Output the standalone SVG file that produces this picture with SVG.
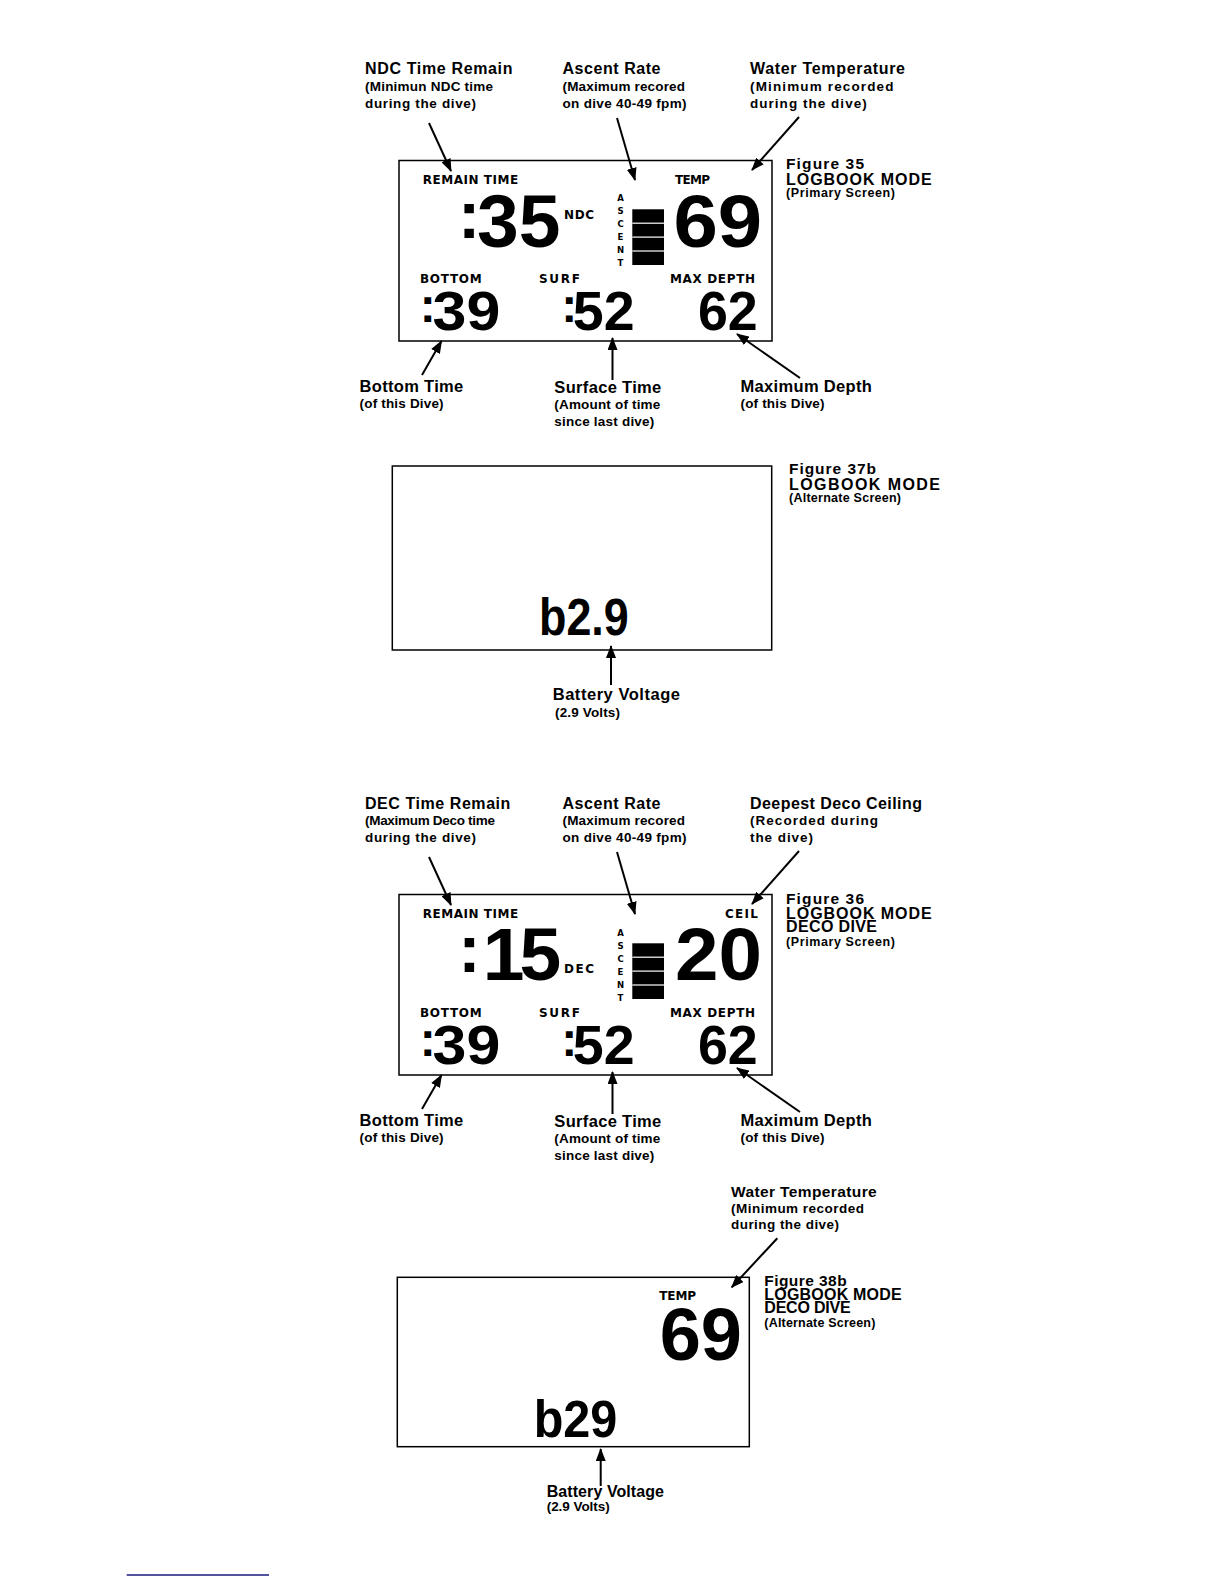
<svg xmlns="http://www.w3.org/2000/svg" width="1224" height="1584" viewBox="0 0 1224 1584">
<style>
text{font-family:"Liberation Sans",Arial,sans-serif;font-weight:bold;fill:#000}
.h{font-size:16px}
.hb{font-size:16.5px}
.s{font-size:13.5px}
.fg{font-size:15.5px}
.lg{font-size:16px}
.ps{font-size:12.5px}
.lcd{font-family:"DejaVu Sans","Liberation Sans",sans-serif;font-size:12px}
.asc{font-family:"DejaVu Sans","Liberation Sans",sans-serif;font-size:8.5px;text-anchor:middle}
.box{fill:#fff;stroke:#000;stroke-width:1.5}
.conn line{stroke:#000;stroke-width:2;marker-end:url(#ah)}
.sep{stroke:#fff;stroke-width:1.2}
</style>
<defs>
<marker id="ah" viewBox="0 0 13 10" refX="12" refY="5" markerWidth="13" markerHeight="10" markerUnits="userSpaceOnUse" orient="auto">
<path d="M0,0 L13,5 L0,10 z" fill="#000"/>
</marker>
</defs>
<rect width="1224" height="1584" fill="#fff"/>

<!-- ===== Figure 35 ===== -->
<g id="fig35-labels">
<text class="h" x="365" y="74" textLength="147.5">NDC Time Remain</text>
<text class="s" x="365" y="91" textLength="128">(Minimun NDC time</text>
<text class="s" x="365" y="107.5" textLength="111">during the dive)</text>
<text class="h" x="562.5" y="74" textLength="98">Ascent Rate</text>
<text class="s" x="562.5" y="91" textLength="122.5">(Maximum recored</text>
<text class="s" x="562.5" y="107.5" textLength="124">on dive 40-49 fpm)</text>
<text class="h" x="750" y="74" textLength="155">Water Temperature</text>
<text class="s" x="750" y="91" textLength="143.5">(Minimum recorded</text>
<text class="s" x="750" y="107.5" textLength="116.7">during the dive)</text>
<text class="hb" x="359.6" y="392" textLength="103.6">Bottom Time</text>
<text class="s" x="359.6" y="408" textLength="84">(of this Dive)</text>
<text class="hb" x="554.3" y="392.5" textLength="107">Surface Time</text>
<text class="s" x="554.3" y="409" textLength="106">(Amount of time</text>
<text class="s" x="554.3" y="425.5" textLength="100">since last dive)</text>
<text class="hb" x="740.5" y="391.5" textLength="131.4">Maximum Depth</text>
<text class="s" x="740.5" y="407.5" textLength="84">(of this Dive)</text>
<text class="fg" x="786" y="169" textLength="78">Figure  35</text>
<text class="lg" x="786" y="184.5" textLength="145.7">LOGBOOK  MODE</text>
<text class="ps" x="786" y="197" textLength="109">(Primary Screen)</text>
</g>
<g id="fig35-screen">
<rect class="box" x="399" y="160.5" width="373" height="180.5"/>
<text class="lcd" x="422.7" y="184.3" textLength="95.6">REMAIN TIME</text>
<text class="lcd" x="675" y="184.3" textLength="35">TEMP</text>
<text class="lcd" x="564" y="219" textLength="30">NDC</text>
<text class="lcd" x="420" y="283.3" textLength="61.7">BOTTOM</text>
<text class="lcd" x="539" y="283.3" textLength="41">SURF</text>
<text class="lcd" x="670" y="283.3" textLength="85">MAX DEPTH</text>
<text x="458.1" y="237.7" font-size="67">:</text>
<text x="477" y="246.7" font-size="75">35</text>
<text x="673.5" y="246.7" font-size="75" textLength="88.7" lengthAdjust="spacingAndGlyphs">69</text>
<text x="419.7" y="321.7" font-size="48">:</text>
<text x="432.6" y="330" font-size="55.5" textLength="67.7" lengthAdjust="spacingAndGlyphs">39</text>
<text x="561.3" y="321.7" font-size="48">:</text>
<text x="572.8" y="330" font-size="55.5" textLength="61.8" lengthAdjust="spacingAndGlyphs">52</text>
<text x="697.9" y="330" font-size="55.5" textLength="59.8" lengthAdjust="spacingAndGlyphs">62</text>
<text class="asc" x="620.5" y="200.7">A</text>
<text class="asc" x="620.5" y="213.7">S</text>
<text class="asc" x="620.5" y="226.7">C</text>
<text class="asc" x="620.5" y="239.7">E</text>
<text class="asc" x="620.5" y="252.7">N</text>
<text class="asc" x="620.5" y="265.7">T</text>
<rect x="632.3" y="209.3" width="31.7" height="55.7" fill="#000"/>
<line class="sep" x1="632.3" y1="223.2" x2="664" y2="223.2"/>
<line class="sep" x1="632.3" y1="237.1" x2="664" y2="237.1"/>
<line class="sep" x1="632.3" y1="251" x2="664" y2="251"/>
</g>

<!-- ===== Figure 37b ===== -->
<g id="fig37b-labels">
<text class="fg" x="789" y="474.3" textLength="87">Figure  37b</text>
<text class="lg" x="789" y="490" textLength="151">LOGBOOK  MODE</text>
<text class="ps" x="789" y="502" textLength="112">(Alternate Screen)</text>
<text class="hb" x="552.7" y="700" textLength="127.3">Battery Voltage</text>
<text class="s" x="555" y="716.7" textLength="65">(2.9 Volts)</text>
</g>
<g id="fig37b-screen">
<rect class="box" x="392.3" y="466" width="379.4" height="184"/>
<text x="539" y="635" font-size="51" textLength="89.8" lengthAdjust="spacingAndGlyphs">b2.9</text>
</g>

<!-- ===== Figure 36 ===== -->
<g id="fig36-labels">
<text class="h" x="365" y="809" textLength="145.4">DEC Time Remain</text>
<text class="s" x="365" y="825" textLength="130">(Maximum Deco time</text>
<text class="s" x="365" y="841.5" textLength="111">during the dive)</text>
<text class="h" x="562.5" y="809" textLength="98">Ascent Rate</text>
<text class="s" x="562.5" y="825" textLength="122.5">(Maximum recored</text>
<text class="s" x="562.5" y="841.5" textLength="124">on dive 40-49 fpm)</text>
<text class="h" x="750" y="809" textLength="172">Deepest Deco Ceiling</text>
<text class="s" x="750" y="825" textLength="128">(Recorded during</text>
<text class="s" x="750" y="841.5" textLength="63">the dive)</text>
<text class="hb" x="359.6" y="1126" textLength="103.6">Bottom Time</text>
<text class="s" x="359.6" y="1142" textLength="84">(of this Dive)</text>
<text class="hb" x="554.3" y="1126.5" textLength="107">Surface Time</text>
<text class="s" x="554.3" y="1143" textLength="106">(Amount of time</text>
<text class="s" x="554.3" y="1159.5" textLength="100">since last dive)</text>
<text class="hb" x="740.5" y="1125.5" textLength="131.4">Maximum Depth</text>
<text class="s" x="740.5" y="1141.5" textLength="84">(of this Dive)</text>
<text class="fg" x="786" y="904" textLength="78">Figure  36</text>
<text class="lg" x="786" y="918.5" textLength="145.7">LOGBOOK  MODE</text>
<text class="lg" x="786" y="931.5" textLength="91">DECO DIVE</text>
<text class="ps" x="786" y="946" textLength="109">(Primary Screen)</text>
</g>
<g id="fig36-screen">
<rect class="box" x="399" y="894.5" width="373" height="180.5"/>
<text class="lcd" x="422.7" y="918.3" textLength="95.6">REMAIN TIME</text>
<text class="lcd" x="725" y="918.3" textLength="33">CEIL</text>
<text class="lcd" x="564" y="973" textLength="30">DEC</text>
<text class="lcd" x="420" y="1017.3" textLength="61.7">BOTTOM</text>
<text class="lcd" x="539" y="1017.3" textLength="41">SURF</text>
<text class="lcd" x="670" y="1017.3" textLength="85">MAX DEPTH</text>
<text x="458.3" y="971.7" font-size="67">:</text>
<text x="482.7" y="980" font-size="75" letter-spacing="-5">15</text>
<text x="674.9" y="980" font-size="75" textLength="87" lengthAdjust="spacingAndGlyphs">20</text>
<text x="419.7" y="1055.7" font-size="48">:</text>
<text x="432.6" y="1064" font-size="55.5" textLength="67.7" lengthAdjust="spacingAndGlyphs">39</text>
<text x="561.3" y="1055.7" font-size="48">:</text>
<text x="572.8" y="1064" font-size="55.5" textLength="61.8" lengthAdjust="spacingAndGlyphs">52</text>
<text x="697.9" y="1064" font-size="55.5" textLength="59.8" lengthAdjust="spacingAndGlyphs">62</text>
<text class="asc" x="620.5" y="935.7">A</text>
<text class="asc" x="620.5" y="948.7">S</text>
<text class="asc" x="620.5" y="961.7">C</text>
<text class="asc" x="620.5" y="974.7">E</text>
<text class="asc" x="620.5" y="987.7">N</text>
<text class="asc" x="620.5" y="1000.7">T</text>
<rect x="632.3" y="943.3" width="31.7" height="55.7" fill="#000"/>
<line class="sep" x1="632.3" y1="957.2" x2="664" y2="957.2"/>
<line class="sep" x1="632.3" y1="971.1" x2="664" y2="971.1"/>
<line class="sep" x1="632.3" y1="985" x2="664" y2="985"/>
</g>

<!-- ===== Figure 38b ===== -->
<g id="fig38b-labels">
<text class="fg" x="731" y="1196.7" textLength="145.7">Water Temperature</text>
<text class="s" x="731" y="1213.3" textLength="133">(Minimum recorded</text>
<text class="s" x="731" y="1229" textLength="108">during the dive)</text>
<text class="fg" x="764.3" y="1286" textLength="82.3">Figure  38b</text>
<text class="lg" x="764.3" y="1300.3" textLength="137.4">LOGBOOK  MODE</text>
<text class="lg" x="764.3" y="1312.7" textLength="86.4">DECO DIVE</text>
<text class="ps" x="764.3" y="1326.5" textLength="111">(Alternate Screen)</text>
<text class="h" x="546.7" y="1496.5" textLength="117.3">Battery Voltage</text>
<text class="s" x="546.7" y="1511" textLength="63">(2.9 Volts)</text>
</g>
<g id="fig38b-screen">
<rect class="box" x="397.3" y="1277.3" width="352" height="169.4"/>
<text class="lcd" x="659.3" y="1300" textLength="36.7">TEMP</text>
<text x="659.7" y="1360" font-size="74">69</text>
<text x="533.7" y="1436.7" font-size="51" textLength="83.7" lengthAdjust="spacingAndGlyphs">b29</text>
</g>

<!-- ===== Connectors ===== -->
<g id="connectors" class="conn">
<line x1="429" y1="123" x2="451" y2="171"/>
<line x1="617" y1="118" x2="635" y2="180"/>
<line x1="799" y1="117" x2="752" y2="170"/>
<line x1="422" y1="375" x2="441.5" y2="341"/>
<line x1="612.5" y1="380" x2="612.5" y2="338"/>
<line x1="800" y1="378" x2="737" y2="334"/>
<line x1="611" y1="685" x2="611" y2="646"/>
<line x1="429" y1="857" x2="451" y2="905"/>
<line x1="617" y1="852" x2="635" y2="914"/>
<line x1="799" y1="851" x2="752" y2="904"/>
<line x1="422" y1="1109" x2="441.5" y2="1075"/>
<line x1="612.5" y1="1114" x2="612.5" y2="1072"/>
<line x1="800" y1="1112" x2="737" y2="1068"/>
<line x1="777.3" y1="1238.3" x2="731.7" y2="1287.3"/>
<line x1="600.7" y1="1486" x2="600.7" y2="1449"/>
</g>

<line x1="126.7" y1="1575" x2="269" y2="1575" stroke="#1a1a80" stroke-width="1.5"/>
</svg>
